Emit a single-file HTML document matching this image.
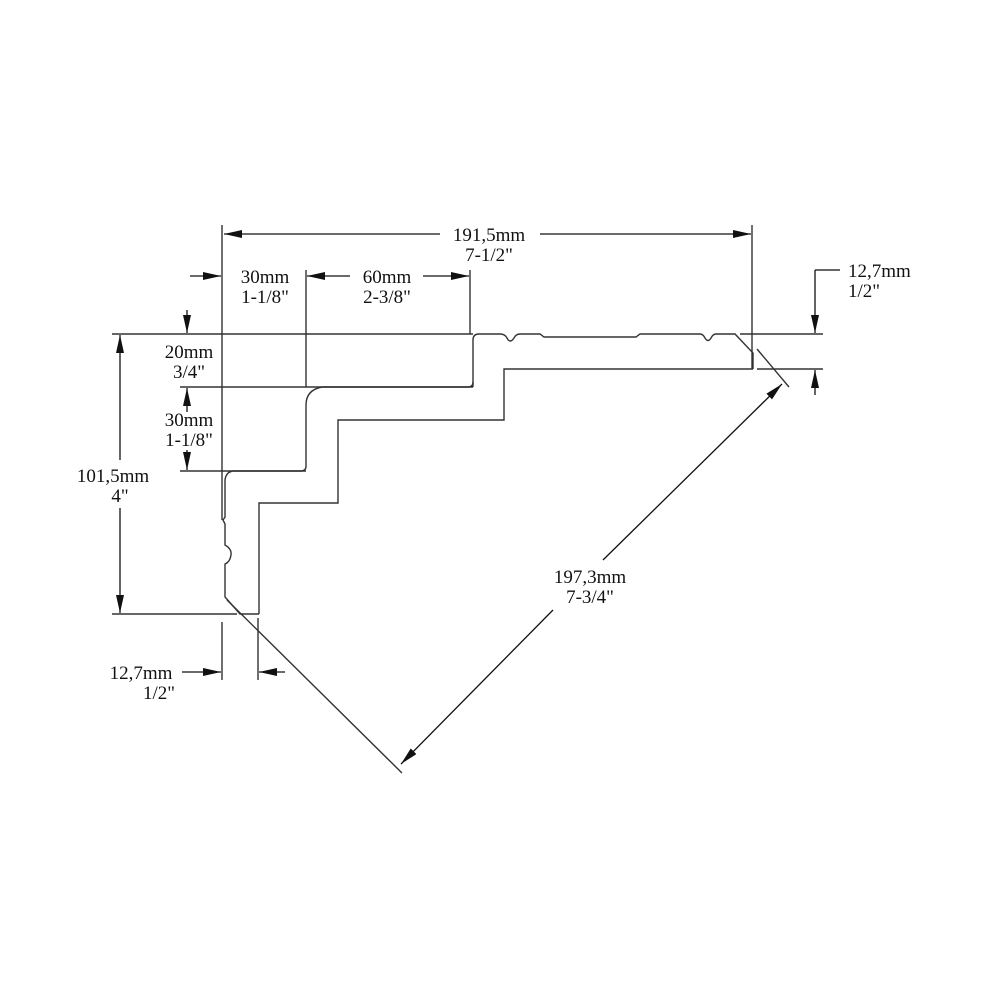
<!DOCTYPE html>
<html><head><meta charset="utf-8"><style>html,body{margin:0;padding:0;background:#fff}svg{display:block}text{font-family:"Liberation Serif",serif;font-size:19px;fill:#111}</style></head>
<body>
<svg width="1000" height="1000" viewBox="0 0 1000 1000" xmlns="http://www.w3.org/2000/svg">
<defs>
<marker id="a" viewBox="0 0 18 8" refX="18" refY="4" markerWidth="18" markerHeight="8" markerUnits="userSpaceOnUse" orient="auto" preserveAspectRatio="none"><path d="M0,0 L18,4 L0,8 Z" fill="#111"/></marker>
</defs>
<g fill="none" stroke="#333" stroke-width="1.4">
<path d="M473,387 L473,340 Q473,334 479,334 L500,334 Q505,334 507,338 Q510,344 514,338 Q516,334 520,334 L540,334 L544,337 L636,337 L640,334 L700,334 Q703,334 705,338 Q708,343 711,338 Q713,334 716,334 L735,334 L753,353 L753,369"/>
<path d="M473,382 Q473,387 468,387 L322,387 Q306,390 306,405 L306,466 Q306,471 301,471 L233,471 Q226,472 225,480 L225,517 L223,520 L225,524 L225,545 Q232,549 231,555 Q230,562 225,564 L225,597 L240,614 L259,614"/>
<path d="M753,369 L504,369 L504,420 L338,420 L338,503 L259,503 L259,614"/>
<path d="M222,225 L222,520 M752,225 L752,369 M112,334 L473,334 M740,334 L823,334 M757,369 L823,369 M180,387 L473,387 M180,471 L306,471 M112,614 L237,614 M306,270 L306,387 M470,270 L470,334"/>
<path d="M222,622 L222,680 M258,618 L258,680"/>
<path d="M227,600 L402,773 M757,349 L789,387"/>
<path d="M815,270 L840,270"/>
</g>
<g fill="none" stroke="#111" stroke-width="1.3">
<path d="M440,234 L224,234" marker-end="url(#a)"/>
<path d="M540,234 L751,234" marker-end="url(#a)"/>
<path d="M190,276 L221,276" marker-end="url(#a)"/>
<path d="M350,276 L307,276" marker-end="url(#a)"/>
<path d="M423,276 L469,276" marker-end="url(#a)"/>
<path d="M187,310 L187,333" marker-end="url(#a)"/>
<path d="M187,412 L187,388" marker-end="url(#a)"/>
<path d="M187,450 L187,470" marker-end="url(#a)"/>
<path d="M120,460 L120,335" marker-end="url(#a)"/>
<path d="M120,508 L120,613" marker-end="url(#a)"/>
<path d="M815,270 L815,333" marker-end="url(#a)"/>
<path d="M815,395 L815,370" marker-end="url(#a)"/>
<path d="M182,672 L221,672" marker-end="url(#a)"/>
<path d="M285,672 L259,672" marker-end="url(#a)"/>
<path d="M603,560 L782,384" marker-end="url(#a)"/>
<path d="M553,610 L401,764" marker-end="url(#a)"/>
</g>
<g text-anchor="middle">
<text x="489" y="241">191,5mm</text><text x="489" y="261">7-1/2"</text>
<text x="265" y="283">30mm</text><text x="265" y="303">1-1/8"</text>
<text x="387" y="283">60mm</text><text x="387" y="303">2-3/8"</text>
<text x="189" y="358">20mm</text><text x="189" y="378">3/4"</text>
<text x="189" y="426">30mm</text><text x="189" y="446">1-1/8"</text>
<text x="113" y="482">101,5mm</text><text x="120" y="502">4"</text>
<text x="590" y="583">197,3mm</text><text x="590" y="603">7-3/4"</text>
<text x="141" y="679">12,7mm</text><text x="159" y="699">1/2"</text>
</g>
<text x="848" y="277">12,7mm</text><text x="848" y="297">1/2"</text>
</svg>
</body></html>
